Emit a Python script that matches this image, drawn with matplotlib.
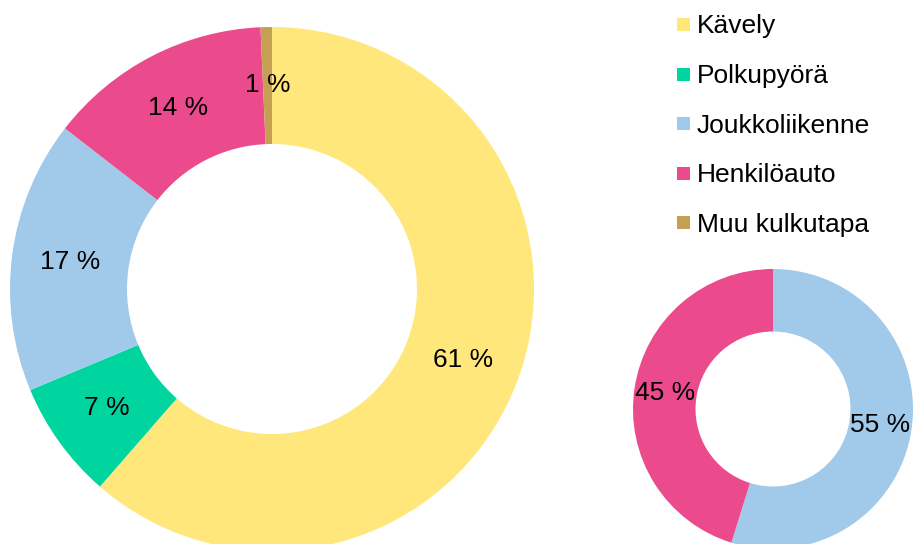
import matplotlib
matplotlib.use("Agg")
import matplotlib.pyplot as plt
from matplotlib.patches import Rectangle

plt.rcParams['font.family'] = ['Liberation Sans', 'DejaVu Sans']

# data (shares, labels show rounded values)
categories = ["Kävely", "Polkupyörä", "Joukkoliikenne", "Henkilöauto", "Muu kulkutapa"]
shares_all = [61.4, 7.3, 16.8, 13.8, 0.7]
colors = ["#FFE77B", "#00D5A0", "#A0C9EA", "#EB4A8C", "#C6A052"]

small_cats = ["Joukkoliikenne", "Henkilöauto"]
shares_small = [54.8, 45.2]

W, H = 914, 544
fig = plt.figure(figsize=(W / 100, H / 100), dpi=100)
# one axes in pixel units, y upwards
ax = fig.add_axes([0, 0, 1, 1])

col = dict(zip(categories, colors))
fmt = lambda p: f"{p:.0f} %"
txt = dict(fontsize=19, color="black")

# big donut
ax.pie(shares_all, colors=colors, startangle=90, counterclock=False,
       center=(272, H - 289), radius=262, autopct=fmt, pctdistance=0.777,
       wedgeprops=dict(width=117, linewidth=0), textprops=txt)

# small donut
ax.pie(shares_small, colors=[col[c] for c in small_cats], startangle=90,
       counterclock=False, center=(773, H - 409), radius=140, autopct=fmt,
       pctdistance=0.777, wedgeprops=dict(width=62.5, linewidth=0),
       textprops=txt)

ax.set_xlim(0, W)
ax.set_ylim(0, H)
ax.set_aspect('equal')
ax.axis('off')

# legend drawn by hand
y0, step = 24.5, 49.6
for i, c in enumerate(categories):
    yc = H - (y0 + i * step)
    ax.add_patch(Rectangle((677, yc - 6.5), 13, 13, color=col[c], lw=0))
    ax.text(697, yc - 9, c, ha='left', va='baseline', **txt)

fig.savefig("out.png", dpi=100)
